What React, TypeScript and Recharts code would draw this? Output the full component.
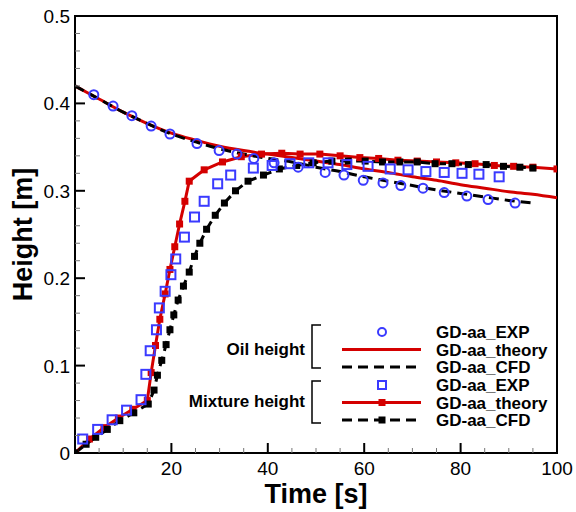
import React from 'react';
import { ComposedChart, Line, XAxis, YAxis, ReferenceArea } from 'recharts';

const BLUE = '#3a3aff';
const RED = '#d40000';
const FONT = '"Liberation Sans", Arial, sans-serif';

// [time s, height m]
const oilExp = [
  [3.9, 0.41], [7.9, 0.397], [11.8, 0.386], [15.8, 0.374], [19.7, 0.365], [25.3, 0.354],
  [29.9, 0.346], [33.6, 0.342], [37.1, 0.337], [41.3, 0.332], [46.3, 0.327], [51.9, 0.321],
  [55.8, 0.318], [59.8, 0.312], [63.9, 0.309], [67.6, 0.306], [72.2, 0.303], [76.6, 0.298],
  [81.3, 0.294], [85.7, 0.29], [91.3, 0.286],
];

const oilTheory = [
  [0, 0.42], [5, 0.405], [10, 0.39], [15, 0.377], [20, 0.366], [25, 0.358], [30, 0.351],
  [35, 0.346], [40, 0.342], [45, 0.338], [50, 0.334], [55, 0.33], [60, 0.325], [65, 0.321],
  [70, 0.316], [75, 0.312], [80, 0.307], [85, 0.303], [90, 0.299], [95, 0.296], [100, 0.292],
];

const oilCfd = [
  [0, 0.42], [5, 0.405], [10, 0.39], [15, 0.377], [20, 0.365], [25, 0.356], [30, 0.348],
  [35, 0.342], [40, 0.337], [45, 0.333], [50, 0.327], [55, 0.322], [60, 0.316], [65, 0.311],
  [70, 0.306], [75, 0.301], [80, 0.297], [85, 0.293], [90, 0.289], [95, 0.286],
];

const mixExp = [
  [1.6, 0.016], [4.7, 0.027], [7.7, 0.038], [10.7, 0.049], [13.7, 0.061], [14.7, 0.09],
  [15.6, 0.117], [16.9, 0.141], [17.5, 0.166], [18.7, 0.185], [19.9, 0.204], [20.9, 0.222],
  [22.7, 0.247], [24.8, 0.27], [26.8, 0.288], [29.6, 0.308], [32.3, 0.318], [37.0, 0.326],
  [40.9, 0.329], [44.6, 0.331], [48.5, 0.332], [52.5, 0.332], [56.4, 0.33], [60.8, 0.328],
  [65.4, 0.325], [69.1, 0.324], [72.8, 0.322], [76.6, 0.321], [80.3, 0.32], [83.8, 0.319],
  [88.0, 0.316],
];

const mixTheory = [
  [0, 0], [3, 0.016], [6, 0.029], [9, 0.04], [12, 0.05], [15, 0.06], [15.8, 0.092],
  [16.7, 0.123], [17.6, 0.153], [18.7, 0.182], [19.7, 0.21], [20.7, 0.236], [21.7, 0.262],
  [22.8, 0.288], [23.7, 0.311], [26.8, 0.324], [30.6, 0.333], [34.5, 0.339], [38.7, 0.342],
  [42.9, 0.343], [46.7, 0.342], [50.8, 0.342], [55, 0.34], [59.1, 0.338], [63, 0.337],
  [67, 0.335], [71, 0.334], [75, 0.333], [79, 0.332], [83, 0.331], [87, 0.329], [91, 0.328],
  [95, 0.327], [100, 0.325],
];

const mixCfd = [
  [0, 0], [2.3, 0.01], [4.3, 0.018], [6.7, 0.027], [9.3, 0.037], [12.2, 0.046], [15.2, 0.056],
  [16.4, 0.072], [17.1, 0.089], [18.0, 0.106], [18.9, 0.124], [19.7, 0.141], [20.5, 0.158],
  [21.4, 0.175], [22.5, 0.191], [23.7, 0.207], [24.8, 0.225], [25.9, 0.24], [27.3, 0.256],
  [29.1, 0.272], [31.0, 0.286], [33.3, 0.3], [35.9, 0.311], [39.1, 0.318], [42.4, 0.325],
  [46.0, 0.329], [49.4, 0.332], [53.3, 0.334], [56.7, 0.334], [60.2, 0.334], [63.8, 0.333],
  [67.4, 0.333], [71.0, 0.333], [74.7, 0.331], [78.2, 0.331], [81.6, 0.33], [85.3, 0.33],
  [88.9, 0.328], [92.3, 0.327], [95, 0.326],
];

const xTicks = [0, 5, 10, 15, 20, 25, 30, 35, 40, 45, 50, 55, 60, 65, 70, 75, 80, 85, 90, 95, 100];
const yTicks = [
  0, 0.02, 0.04, 0.06, 0.08, 0.1, 0.12, 0.14, 0.16, 0.18, 0.2, 0.22, 0.24, 0.26, 0.28,
  0.3, 0.32, 0.34, 0.36, 0.38, 0.4, 0.42, 0.44, 0.46, 0.48, 0.5,
];

const toRows = (pts: number[][]) => pts.map(([t, h]) => ({ t, h }));

const XTick = ({ x, y, payload }: any) => {
  const v = payload.value;
  const major = v % 20 === 0;
  return (
    <g>
      <line x1={x} x2={x} y1={y} y2={y - (major ? 10 : 5)} stroke={major ? '#000' : '#777'} strokeWidth={major ? 2 : 1} />
      {major && v !== 0 && (
        <text x={x} y={y + 22} textAnchor="middle" fontSize={19} fontFamily={FONT} fill="#000">{v}</text>
      )}
    </g>
  );
};

const YTick = ({ x, y, payload }: any) => {
  const v = payload.value;
  const major = Math.abs(v * 10 - Math.round(v * 10)) < 1e-6;
  return (
    <g>
      <line x1={x} x2={x + (major ? 10 : 5)} y1={y} y2={y} stroke={major ? '#000' : '#777'} strokeWidth={major ? 2 : 1} />
      {major && (
        <text x={x - 5} y={y + 7} textAnchor="end" fontSize={19} fontFamily={FONT} fill="#000">{String(v)}</text>
      )}
    </g>
  );
};

const OpenCircle = (p: any) =>
  p.cx == null ? <g key={p.key} /> : <circle key={p.key} cx={p.cx} cy={p.cy} r={4.5} fill="none" stroke={BLUE} strokeWidth={2} />;

const OpenSquare = (p: any) =>
  p.cx == null ? <g key={p.key} /> : <rect key={p.key} x={p.cx - 4.5} y={p.cy - 4.5} width={9} height={9} fill="none" stroke={BLUE} strokeWidth={2} />;

const filledSquare = (color: string) => (p: any) =>
  p.cx == null ? <g key={p.key} /> : <rect key={p.key} x={p.cx - 3.5} y={p.cy - 3.5} width={7} height={7} fill={color} />;

const legendRows = [
  { y: 332, label: 'GD-aa_EXP', kind: 'circle' },
  { y: 349.5, label: 'GD-aa_theory', kind: 'red' },
  { y: 367, label: 'GD-aa_CFD', kind: 'dash' },
  { y: 385, label: 'GD-aa_EXP', kind: 'square' },
  { y: 402.5, label: 'GD-aa_theory', kind: 'redSq' },
  { y: 420, label: 'GD-aa_CFD', kind: 'dashSq' },
];

const LegendBox = () => (
  <svg width={576} height={512} style={{ position: 'absolute', left: 0, top: 0, pointerEvents: 'none' }}>
    <g fontFamily={FONT} fontWeight="bold" fontSize={17} fill="#000">
      <text x={305} y={355} textAnchor="end">Oil height</text>
      <text x={305} y={407} textAnchor="end">Mixture height</text>
      {legendRows.map((r, i) => (
        <text key={i} x={436} y={r.y + 6}>{r.label}</text>
      ))}
    </g>
    <path d="M321 325 H312 V368 H321" fill="none" stroke="#000" strokeWidth={1.5} />
    <path d="M321 381 H312 V423 H321" fill="none" stroke="#000" strokeWidth={1.5} />
    {legendRows.map((r, i) => {
      if (r.kind === 'circle') return <circle key={i} cx={382} cy={r.y} r={4} fill="none" stroke={BLUE} strokeWidth={2} />;
      if (r.kind === 'square') return <rect key={i} x={378} y={r.y - 4} width={8} height={8} fill="none" stroke={BLUE} strokeWidth={2} />;
      const red = r.kind.startsWith('red');
      return (
        <g key={i}>
          <line x1={342} x2={421} y1={r.y} y2={r.y} stroke={red ? RED : '#000'} strokeWidth={3} strokeDasharray={red ? undefined : '10 6'} />
          {r.kind.endsWith('Sq') && <rect x={378.5} y={r.y - 3.5} width={7} height={7} fill={red ? RED : '#000'} />}
        </g>
      );
    })}
  </svg>
);

export default function App() {
  return (
    <div style={{ position: 'absolute', left: 0, top: 0, width: 576, height: 512, background: '#fff' }}>
      <ComposedChart width={576} height={512} margin={{ top: 16, right: 19, bottom: 0, left: 0 }}>
        <XAxis
          dataKey="t"
          type="number"
          domain={[0, 100]}
          ticks={xTicks}
          interval={0}
          height={59}
          tickSize={0}
          tickMargin={0}
          tickLine={false}
          tick={<XTick />}
          axisLine={{ stroke: '#000', strokeWidth: 2 }}
          allowDataOverflow
          label={{ value: 'Time [s]', position: 'insideBottom', offset: 9, fontSize: 27, fontWeight: 'bold', fontFamily: FONT, fill: '#000' }}
        />
        <YAxis
          type="number"
          domain={[0, 0.5]}
          ticks={yTicks}
          interval={0}
          width={75}
          tickSize={0}
          tickMargin={0}
          tickLine={false}
          tick={<YTick />}
          axisLine={{ stroke: '#000', strokeWidth: 2 }}
          allowDataOverflow
          label={{ value: 'Height [m]', angle: -90, position: 'insideLeft', offset: 22, fontSize: 27, fontWeight: 'bold', fontFamily: FONT, fill: '#000', style: { textAnchor: 'middle' } }}
        />
        <ReferenceArea x1={0} x2={100} y1={0} y2={0.5} fill="none" stroke="#000" strokeWidth={2} />
        <Line data={toRows(oilTheory)} dataKey="h" type="monotone" stroke={RED} strokeWidth={3} dot={false} isAnimationActive={false} />
        <Line data={toRows(mixTheory)} dataKey="h" type="linear" stroke={RED} strokeWidth={3} dot={filledSquare(RED)} isAnimationActive={false} />
        <Line data={toRows(oilCfd)} dataKey="h" type="monotone" stroke="#000" strokeWidth={3} strokeDasharray="10 6" dot={false} isAnimationActive={false} />
        <Line data={toRows(mixCfd)} dataKey="h" type="linear" stroke="#000" strokeWidth={3} strokeDasharray="10 6" dot={filledSquare('#000')} isAnimationActive={false} />
        <Line data={toRows(oilExp)} dataKey="h" stroke="none" dot={OpenCircle} isAnimationActive={false} />
        <Line data={toRows(mixExp)} dataKey="h" stroke="none" dot={OpenSquare} isAnimationActive={false} />
      </ComposedChart>
      <LegendBox />
    </div>
  );
}
